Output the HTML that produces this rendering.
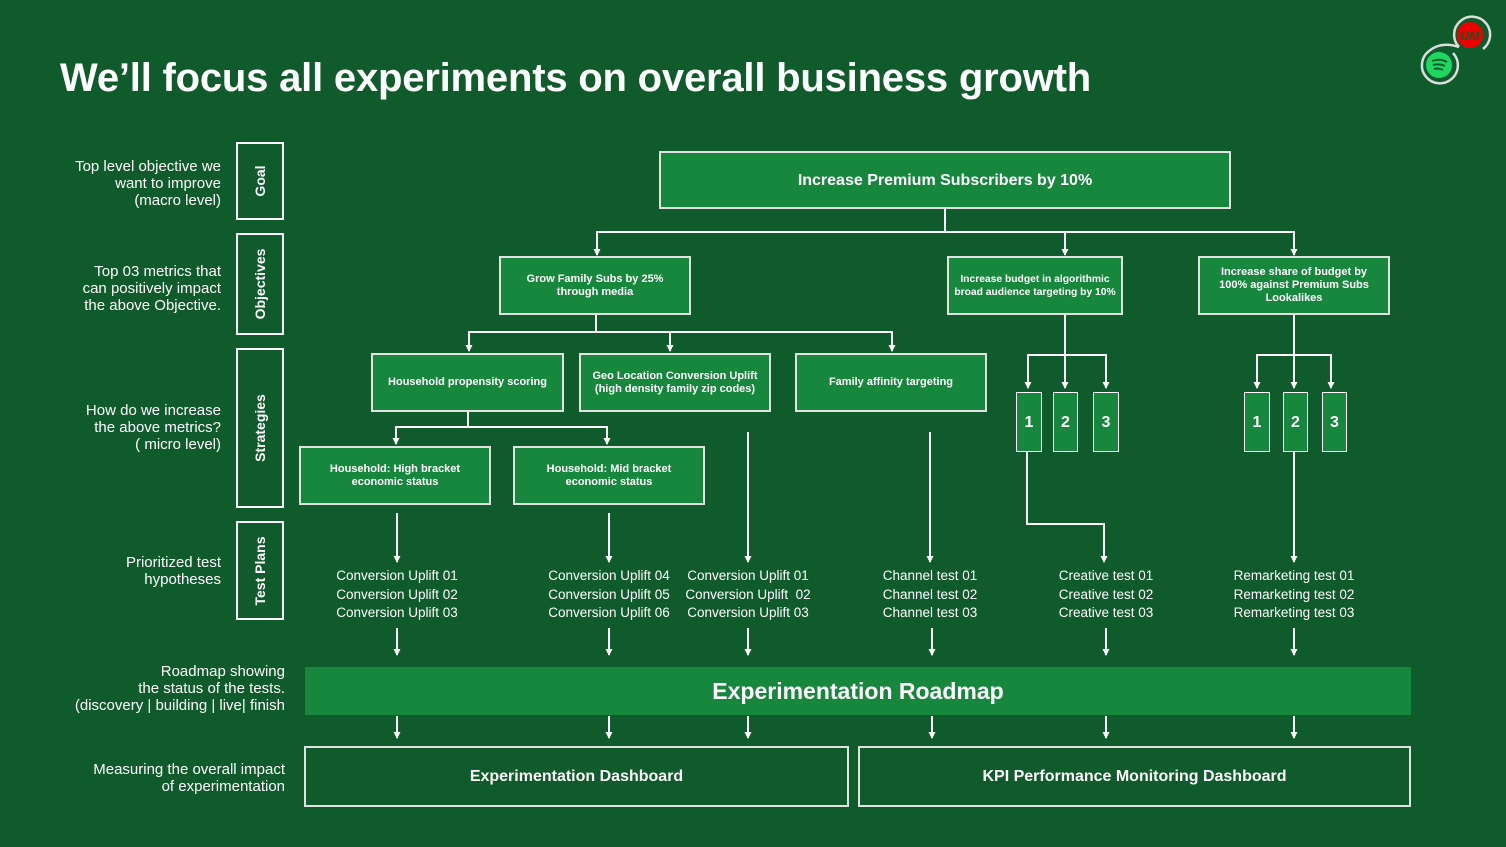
<!DOCTYPE html>
<html><head><meta charset="utf-8"><style>
body{margin:0;width:1506px;height:847px;background:#0f5b2b;position:relative;overflow:hidden;font-family:"Liberation Sans",sans-serif;color:#fff}
.a{position:absolute}
.b{position:absolute;box-sizing:border-box;background:#16873d;border:2px solid #e2e2e2;display:flex;align-items:center;justify-content:center;text-align:center;font-weight:bold;font-size:11px;line-height:13px;white-space:nowrap}
.n{border:1.5px solid #fff;font-size:16px}
.lab{position:absolute;text-align:right;font-size:15px;line-height:17px;white-space:nowrap}
.v{position:absolute;box-sizing:border-box;border:2px solid #fff;left:236px;width:48px}
.v span{position:absolute;left:50%;top:50%;transform:translate(-50%,-50%) rotate(-90deg);font-weight:bold;font-size:14px;white-space:nowrap}
.t{position:absolute;text-align:center;font-size:13.5px;line-height:18.5px;width:180px;white-space:nowrap}
</style></head><body>
<div class="a" style="left:60px;top:56px;font-size:40px;font-weight:bold;letter-spacing:-0.2px;white-space:nowrap">We’ll focus all experiments on overall business growth</div>
<svg class="a" style="left:1415px;top:15px" width="80" height="72" fill="none">
<path d="M44 32A18 18 0 1 1 68 34" stroke="#ddd" stroke-width="2.5"/>
<circle cx="55" cy="20" r="13" fill="#e00"/>
<text x="55" y="25" font-size="12" font-weight="bold" font-style="italic" fill="#0f5b2b" text-anchor="middle" font-family="Liberation Sans">UM</text>
<path d="M38 38A18 18 0 1 1 14 36" stroke="#ddd" stroke-width="2.5"/>
<path d="M14 36Q26 26 44 32" stroke="#ddd" stroke-width="2.5"/>
<circle cx="24" cy="50" r="13" fill="#1ed760"/>
<path d="M17 46q8-3 15 1M18 50q6-2 12 1M19 54q5-1 9 1" stroke="#0f5b2b" stroke-width="2"/>
</svg>

<div class="lab" style="right:1285px;top:158px">Top level objective we<br>want to improve<br>(macro level)</div>
<div class="lab" style="right:1285px;top:263px">Top 03 metrics that<br>can positively impact<br>the above Objective.</div>
<div class="lab" style="right:1285px;top:402px">How do we increase<br>the above metrics?<br>( micro level)</div>
<div class="lab" style="right:1285px;top:554px">Prioritized test<br>hypotheses</div>
<div class="lab" style="right:1221px;top:663px">Roadmap showing<br>the status of the tests.<br>(discovery | building | live| finish</div>
<div class="lab" style="right:1221px;top:761px">Measuring the overall impact<br>of experimentation</div>

<div class="v" style="top:142px;height:78px"><span>Goal</span></div>
<div class="v" style="top:233px;height:102px"><span>Objectives</span></div>
<div class="v" style="top:348px;height:160px"><span>Strategies</span></div>
<div class="v" style="top:521px;height:99px"><span>Test Plans</span></div>

<svg class="a" style="left:0;top:0" width="1506" height="847" fill="none" stroke="#fff" stroke-width="2">
<defs><marker id="m" markerWidth="7" markerHeight="7" refX="6" refY="3.5" orient="auto" markerUnits="userSpaceOnUse"><path d="M0 0L7 3.5L0 7Z" fill="#fff" stroke="none"/></marker></defs>
<g marker-end="url(#m)">
<path d="M945 208V232H597V255"/><path d="M945 232H1294V255"/><path d="M1065 232V255"/>
<path d="M596 314V332H469V351"/><path d="M596 332H892V351"/><path d="M670 332V351"/>
<path d="M468 411V427H396V444"/><path d="M468 427H607V444"/>
<path d="M1065 314V355H1028V388"/><path d="M1065 355H1106V388"/><path d="M1065 355V388"/>
<path d="M1294 314V355H1257V388"/><path d="M1294 355H1331V388"/><path d="M1294 355V388"/>
<path d="M397 513V562"/><path d="M609 513V562"/><path d="M748 432V562"/><path d="M930 432V562"/>
<path d="M1027 451V524H1104V562"/><path d="M1294 451V562"/>
<path d="M397 628V655"/><path d="M609 628V655"/><path d="M748 628V655"/><path d="M932 628V655"/><path d="M1106 628V655"/><path d="M1294 628V655"/>
<path d="M397 716V738"/><path d="M609 716V738"/><path d="M748 716V738"/><path d="M932 716V738"/><path d="M1106 716V738"/><path d="M1294 716V738"/>
</g></svg>

<div class="b" style="left:659px;top:151px;width:572px;height:58px;font-size:16px">Increase Premium Subscribers by 10%</div>
<div class="b" style="left:499px;top:256px;width:192px;height:59px">Grow Family Subs by 25%<br>through media</div>
<div class="b" style="left:947px;top:256px;width:176px;height:59px;font-size:10.3px">Increase budget in algorithmic<br>broad audience targeting by 10%</div>
<div class="b" style="left:1198px;top:256px;width:192px;height:59px">Increase share of budget by<br>100% against Premium Subs<br>Lookalikes</div>
<div class="b" style="left:371px;top:353px;width:193px;height:59px">Household propensity scoring</div>
<div class="b" style="left:579px;top:353px;width:192px;height:59px">Geo Location Conversion Uplift<br>(high density family zip codes)</div>
<div class="b" style="left:795px;top:353px;width:192px;height:59px">Family affinity targeting</div>
<div class="b" style="left:299px;top:446px;width:192px;height:59px">Household: High bracket<br>economic status</div>
<div class="b" style="left:513px;top:446px;width:192px;height:59px">Household: Mid bracket<br>economic status</div>
<div class="b n" style="left:1016px;top:392px;width:26px;height:60px">1</div>
<div class="b n" style="left:1053px;top:392px;width:25px;height:60px">2</div>
<div class="b n" style="left:1093px;top:392px;width:26px;height:60px">3</div>
<div class="b n" style="left:1244px;top:392px;width:26px;height:60px">1</div>
<div class="b n" style="left:1283px;top:392px;width:25px;height:60px">2</div>
<div class="b n" style="left:1322px;top:392px;width:25px;height:60px">3</div>

<div class="t" style="left:307px;top:567px">Conversion Uplift 01<br>Conversion Uplift 02<br>Conversion Uplift 03</div>
<div class="t" style="left:519px;top:567px">Conversion Uplift 04<br>Conversion Uplift 05<br>Conversion Uplift 06</div>
<div class="t" style="left:658px;top:567px">Conversion Uplift 01<br>Conversion Uplift &nbsp;02<br>Conversion Uplift 03</div>
<div class="t" style="left:840px;top:567px">Channel test 01<br>Channel test 02<br>Channel test 03</div>
<div class="t" style="left:1016px;top:567px">Creative test 01<br>Creative test 02<br>Creative test 03</div>
<div class="t" style="left:1204px;top:567px">Remarketing test 01<br>Remarketing test 02<br>Remarketing test 03</div>

<div class="a" style="left:305px;top:667px;width:1106px;height:48px;background:#16873d;display:flex;align-items:center;justify-content:center;font-size:23px;font-weight:bold">Experimentation Roadmap</div>
<div class="b" style="left:304px;top:746px;width:545px;height:61px;background:#0f5b2b;font-size:16px">Experimentation Dashboard</div>
<div class="b" style="left:858px;top:746px;width:553px;height:61px;background:#0f5b2b;font-size:16px">KPI Performance Monitoring Dashboard</div>
</body></html>
